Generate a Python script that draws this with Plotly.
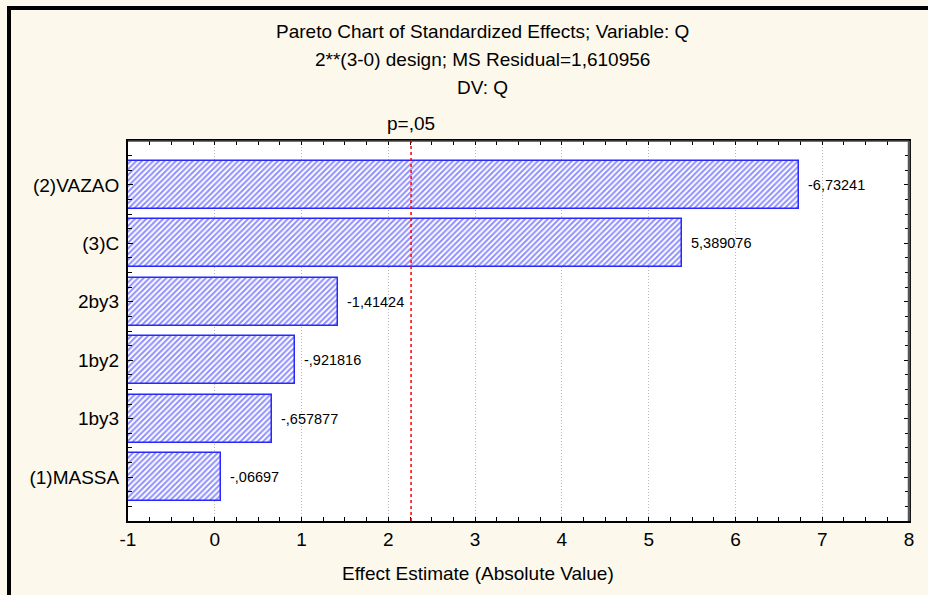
import plotly.graph_objects as go

# ---- data ----
categories = ["(2)VAZAO", "(3)C", "2by3", "1by2", "1by3", "(1)MASSA"]
effects = [-6.73241, 5.389076, -1.41424, -0.921816, -0.657877, -0.06697]
effect_labels = ["-6,73241", "5,389076", "-1,41424", "-,921816", "-,657877", "-,06697"]
p_critical = 2.262
x_ticks = [-1, 0, 1, 2, 3, 4, 5, 6, 7, 8]
title_lines = [
    "Pareto Chart of Standardized Effects; Variable: Q",
    "2**(3-0) design; MS Residual=1,610956",
    "DV: Q",
]
x_title = "Effect Estimate (Absolute Value)"

FONT = "Liberation Sans, Arial, sans-serif"
TXT = "#000"
BASE = -1
n = len(categories)
ypos = [n - 1 - i for i in range(n)]
abs_vals = [abs(v) for v in effects]

# layout geometry (pixels)
W, H = 928, 595
L, R, T, B = 128, 19, 141, 74
pw, ph = W - L - R, H - T - B

def px_x(x):
    return (x - L) / pw

def px_y(y):
    return (H - B - y) / ph

fig = go.Figure()
fig.add_trace(go.Bar(
    y=ypos,
    x=[v - BASE for v in abs_vals],
    base=BASE,
    orientation="h",
    width=0.82,
    marker=dict(
        color="white",
        line=dict(color="#2828ff", width=1.5),
        pattern=dict(shape="/", fgcolor="#2020ff", bgcolor="white", size=4, solidity=0.5),
    ),
    hoverinfo="skip",
    showlegend=False,
))

annotations = []
for yv, v, lab in zip(ypos, abs_vals, effect_labels):
    annotations.append(dict(x=v, y=yv, xref="x", yref="y", text=lab, showarrow=False,
                            xanchor="left", yanchor="middle", xshift=7,
                            font=dict(family=FONT, size=14.5, color=TXT)))

for txt, yc in zip(title_lines, [31.7, 60, 88]):
    annotations.append(dict(x=px_x(482), y=px_y(yc), xref="paper", yref="paper", text=txt,
                            showarrow=False, xanchor="center", yanchor="middle",
                            font=dict(family=FONT, size=19, color=TXT)))
annotations.append(dict(x=p_critical, y=px_y(123), xref="x", yref="paper", text="p=,05",
                        showarrow=False, xanchor="center", yanchor="middle",
                        font=dict(family=FONT, size=19, color=TXT)))
annotations.append(dict(x=px_x(478), y=px_y(573), xref="paper", yref="paper", text=x_title,
                        showarrow=False, xanchor="center", yanchor="middle",
                        font=dict(family=FONT, size=19, color=TXT)))

shapes = [
    # critical value line
    dict(type="line", xref="x", yref="paper", x0=p_critical, x1=p_critical, y0=0, y1=1,
         line=dict(color="#ff0000", width=1.5, dash="3px,3px"), layer="above"),
    # top and right frame (gray)
    dict(type="line", xref="paper", yref="paper", x0=0, x1=1, y0=1, y1=1,
         line=dict(color="#444", width=1.5), layer="above"),
    dict(type="line", xref="paper", yref="paper", x0=1, x1=1, y0=0, y1=1,
         line=dict(color="#555", width=2.5), layer="above"),
    # outer border (top and left black bands)
    dict(type="rect", xref="paper", yref="paper", x0=px_x(7), x1=px_x(W + 5),
         y0=px_y(10), y1=px_y(6), fillcolor="black", line=dict(width=0), layer="above"),
    dict(type="rect", xref="paper", yref="paper", x0=px_x(7), x1=px_x(11),
         y0=px_y(H + 5), y1=px_y(6), fillcolor="black", line=dict(width=0), layer="above"),
]

fig.update_layout(
    width=W, height=H,
    margin=dict(l=L, r=R, t=T, b=B, pad=0),
    paper_bgcolor="#fdf8ec",
    plot_bgcolor="white",
    font=dict(family=FONT, size=19, color=TXT),
    annotations=annotations,
    shapes=shapes,
    bargap=0,
    xaxis=dict(
        range=[-1, 8], tickvals=x_ticks, ticktext=[str(t) for t in x_ticks],
        showgrid=True, gridcolor="#b8b8b8", griddash="1px,2px", gridwidth=1,
        zeroline=False, showline=True, linecolor="black", linewidth=2, mirror="ticks",
        ticks="inside", ticklen=4, tickcolor="black", tickwidth=1,
        minor=dict(dtick=0.25, tick0=0, ticks="inside", ticklen=4, tickcolor="black", showgrid=False),
        tickfont=dict(family=FONT, size=19, color=TXT),
        fixedrange=True,
    ),
    yaxis=dict(
        range=[-0.75, n - 1 + 0.75], tickvals=ypos, ticktext=categories,
        showgrid=False, zeroline=False, showline=True, linecolor="black", linewidth=2,
        mirror="ticks", ticks="inside", ticklen=5, tickcolor="black", tickwidth=1,
        minor=dict(dtick=0.25, tick0=0, ticks="inside", ticklen=4, tickcolor="black", showgrid=False),
        tickfont=dict(family=FONT, size=19, color=TXT),
        ticklabelstandoff=3,
        fixedrange=True,
    ),
)

fig.write_html(
    "out.html",
    config={"displayModeBar": False},
    post_script="document.body.style.margin='0';document.body.style.overflow='hidden';",
)
